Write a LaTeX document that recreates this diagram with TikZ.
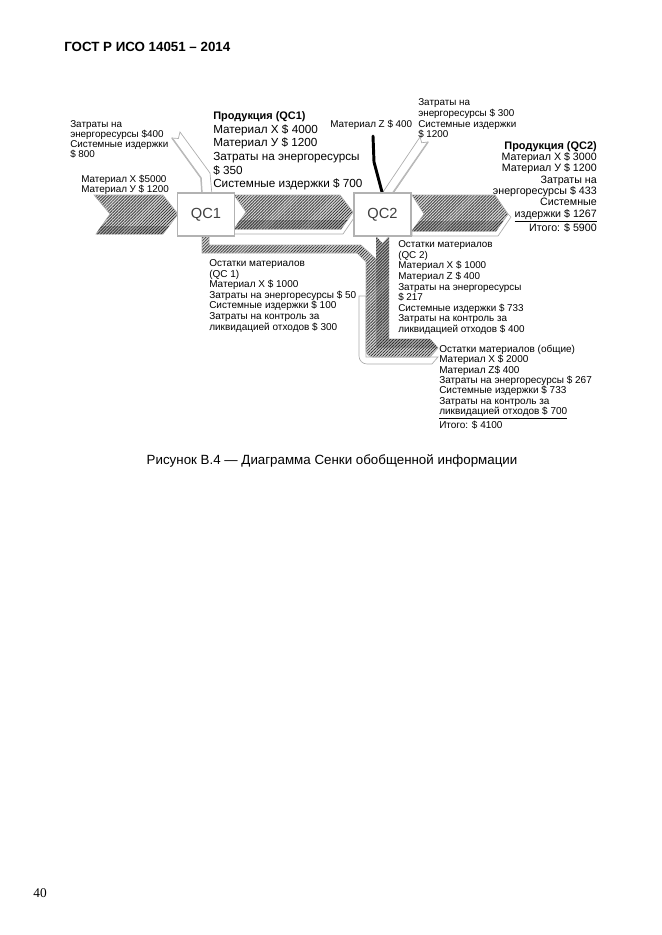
\documentclass[tikz,border=0pt]{standalone}
\usepackage{fontspec}
\setmainfont{Liberation Sans}
\newfontfamily\pagefont{Liberation Serif}
\usetikzlibrary{patterns.meta}
\begin{document}
\begin{tikzpicture}[x=0.75pt,y=-0.75pt,
  hatch/.style={preaction={fill=gray!35}, pattern={Lines[angle=45,distance=1.6pt,line width=0.5pt]}, pattern color=gray!35!black},
  darkband/.style={preaction={fill=gray!70}, pattern={Lines[angle=45,distance=1.6pt,line width=0.5pt]}, pattern color=black!85},
  rim/.style={draw=gray!60, line width=0.45pt},
  side/.style={fill=white, draw=gray!65, line width=0.5pt},
  shade/.style={draw=gray!55, line width=1.1pt},
  qcbox/.style={draw=gray!60, fill=white, line width=0.8pt, minimum width=42.75pt, minimum height=32.25pt, inner sep=0pt, font=\fontsize{11}{11}\selectfont, text=black!75},
  txt/.style={inner sep=0pt, anchor=north west, align=left},
  rtxt/.style={inner sep=0pt, anchor=north east, align=right},
  zline/.style={line width=2.2pt, black, line join=round, line cap=round}]
\useasboundingbox (0,0) rectangle (661,935);
\fill[white] (0,0) rectangle (661,935);

% ---------- waste flows ----------
\path[side] (359,296) [rounded corners=6pt] -- (359,364) [sharp corners] -- (432,364) -- (438,357) -- (366,357) -- (366,296) -- cycle;
\path[hatch, rim] (202,236) -- (209,236) -- (209,245) -- (361,245) -- (376,259) -- (376,339) -- (430,339) -- (438,348) -- (430,357) [rounded corners=5pt] -- (366,357) [sharp corners] -- (366,262) -- (357,253) -- (202,253) -- cycle;
\path[darkband] (376,236) -- (389,236) -- (389,339) -- (430,339) -- (438,348) -- (376,348) -- cycle;
\path[fill=white] (376,236) -- (382.5,243) -- (389,236) -- cycle;

% ---------- input chevron ----------
\path[hatch, rim] (94,195) -- (163,195) -- (178,214) -- (163,234) -- (96,234) -- (110,214) -- cycle;
\path[darkband] (101.6,226) -- (169,226) -- (163,234) -- (96,234) -- cycle;

% ---------- QC1 -> QC2 ----------
\path[side] (234,229) -- (341,229) -- (353,212) -- (356,215) -- (343,234) -- (234,234) -- cycle;
\path[hatch, rim] (234,195) -- (340,195) -- (353,212) -- (341,229) -- (234,229) -- (246,212) -- cycle;
\path[darkband] (240.4,220) -- (347.4,220) -- (341,229) -- (234,229) -- cycle;

% ---------- QC2 -> output ----------
\path[side] (412,231) -- (496,231) -- (508,214) -- (511,217) -- (498,236) -- (412,236) -- cycle;
\path[hatch, rim] (412,195) -- (495,195) -- (508,214) -- (496,231) -- (412,231) -- (424,214) -- cycle;
\path[darkband] (419,221) -- (503,221) -- (496,231) -- (412,231) -- cycle;

% ---------- energy / overhead inputs ----------
\path[side] (172,138) -- (178.4,138.5) -- (180,132) -- (210,173) -- (212,195) -- (202,195) -- (201,178) -- cycle;
\draw[shade] (172,138) -- (201,178) -- (202,194);
\path[side] (420,137) -- (421.7,142.7) -- (428,142) -- (392,195) -- (383,192) -- cycle;
\draw[shade] (428,142) -- (392,194);

% ---------- material Z ----------
\draw[zline] (373,136) -- (374,162) -- (382,192);

% ---------- process boxes ----------
\node[qcbox] (qc1) at (206,214.5) {QC1};
\node[qcbox] (qc2) at (382.5,214.5) {QC2};

% ---------- texts ----------
\node[inner sep=0pt, anchor=west, font=\bfseries\fontsize{10}{10}\selectfont] (hdr) at (64,47) {ГОСТ Р ИСО 14051 – 2014};

\node[txt, font=\fontsize{7.4}{7.5}\selectfont] (t1) at (70,120.6) {Затраты на\\энергоресурсы \$400\\Системные издержки\\\$ 800};
\node[txt, font=\fontsize{7.4}{7.5}\selectfont] (t2) at (81,174.6) {Материал X \$5000\\Материал У \$ 1200};
\node[txt, font=\bfseries\fontsize{8.2}{9}\selectfont] (t3a) at (213,111) {Продукция (QC1)};
\node[txt, font=\fontsize{8.8}{10.2}\selectfont] (t3) at (213,124.3) {Материал X \$ 4000\\Материал У \$ 1200\\Затраты на энергоресурсы\\\$ 350\\Системные издержки \$ 700};
\node[txt, font=\fontsize{7.4}{7.5}\selectfont] (t4) at (330,119.6) {Материал Z \$ 400};
\node[txt, font=\fontsize{7.4}{8}\selectfont] (t5) at (418,98.6) {Затраты на\\энергоресурсы \$ 300\\Системные издержки\\\$ 1200};
\node[rtxt, font=\bfseries\fontsize{8.2}{9}\selectfont] (t6a) at (597,141) {Продукция (QC2)};
\node[rtxt, font=\fontsize{8}{8.5}\selectfont] (t6) at (597,152.2) {Материал X \$ 3000\\Материал У \$ 1200\\Затраты на\\энергоресурсы \$ 433\\Системные\\\underline{издержки \$ 1267}\\Итого: \$ 5900};
\node[txt, font=\fontsize{7.5}{7.9}\selectfont] (t7) at (209,259.6) {Остатки материалов\\(QC 1)\\Материал X \$ 1000\\Затраты на энергоресурсы \$ 50\\Системные издержки \$ 100\\Затраты на контроль за\\ликвидацией отходов \$ 300};
\node[txt, font=\fontsize{7.4}{7.95}\selectfont] (t8) at (398,240.6) {Остатки материалов\\(QC 2)\\Материал X \$ 1000\\Материал Z \$ 400\\Затраты на энергоресурсы\\\$ 217\\Системные издержки \$ 733\\Затраты на контроль за\\ликвидацией отходов \$ 400};
\node[txt, font=\fontsize{7.5}{7.8}\selectfont] (t9) at (439,344.6) {Остатки материалов (общие)\\Материал X \$ 2000\\Материал Z\$ 400\\Затраты на энергоресурсы \$ 267\\Системные издержки \$ 733\\Затраты на контроль за\\\underline{ликвидацией отходов \$ 700}\\Итого: \$ 4100};

\node[inner sep=0pt, anchor=base, font=\fontsize{10}{10}\selectfont] (cap) at (332,464.8) {Рисунок В.4 — Диаграмма Сенки обобщенной информации};
\node[inner sep=0pt, anchor=base, font=\pagefont\fontsize{10}{10}\selectfont] (pg) at (40,897) {40};
\end{tikzpicture}
\end{document}
